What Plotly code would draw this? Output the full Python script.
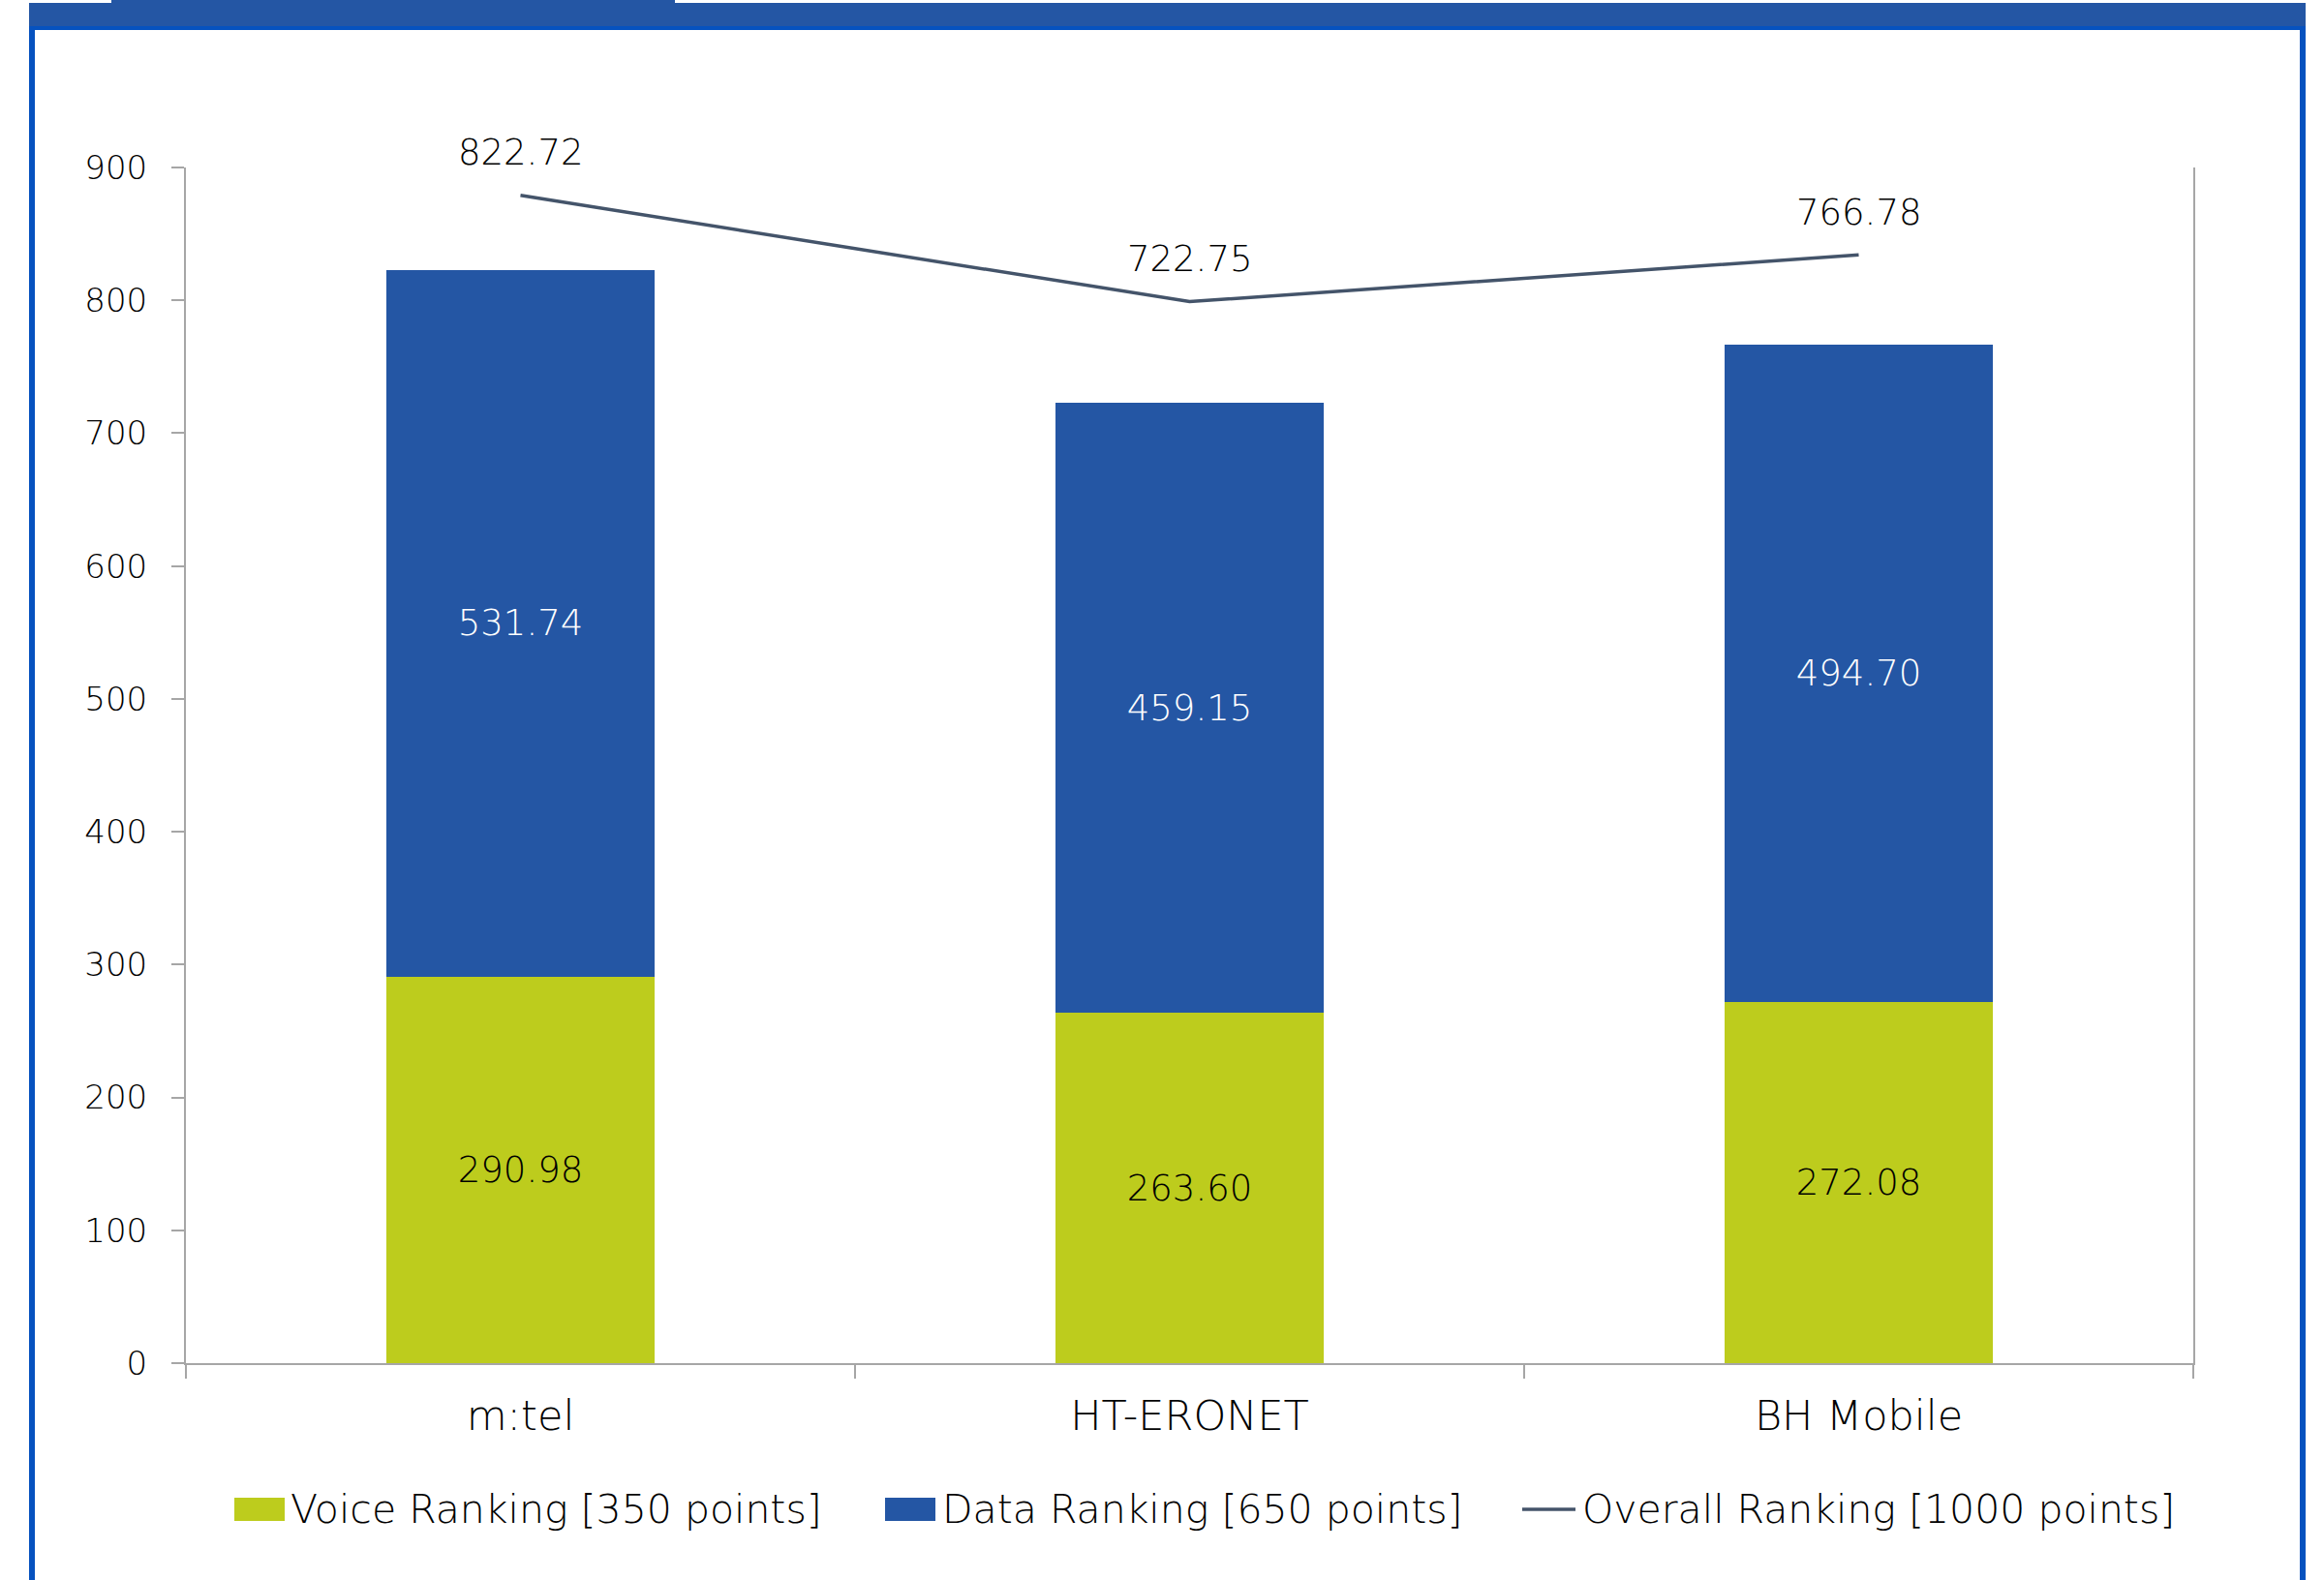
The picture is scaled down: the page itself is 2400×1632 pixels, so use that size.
import plotly.graph_objects as go

# ---------------- data ----------------
categories = ["m:tel", "HT-ERONET", "BH Mobile"]
voice_values = [290.98, 263.60, 272.08]
data_values = [531.74, 459.15, 494.70]
overall_values = [822.72, 722.75, 766.78]
series_names = ["Voice Ranking [350 points]", "Data Ranking [650 points]", "Overall Ranking [1000 points]"]
y_ticks = [0, 100, 200, 300, 400, 500, 600, 700, 800, 900]

# ---------------- style ----------------
W, H = 2400, 1632
PL, PR, PT, PB = 192, 2265, 173, 1408  # plot area in pixels
GREEN = "#BDCC1D"
BLUE = "#2456A4"
LINE = "#44546A"
FRAME = "#0652BF"
FONT = "DejaVu Sans"
WEIGHT = 200
AXIS_GRAY = "#A6A6A6"


def px(x):
    return (x - PL) / (PR - PL)


def py(y):
    return (PB - y) / (PB - PT)


fig = go.Figure()

fig.add_trace(go.Bar(
    x=categories, y=voice_values, name=series_names[0],
    marker=dict(color=GREEN, line=dict(width=0)),
    texttemplate="%{y:.2f}", textposition="inside", insidetextanchor="middle",
    textangle=0, textfont=dict(color="#000000", size=37, family=FONT, weight=WEIGHT),
    width=0.4, showlegend=False,
))
fig.add_trace(go.Bar(
    x=categories, y=data_values, name=series_names[1],
    marker=dict(color=BLUE, line=dict(width=0)),
    texttemplate="%{y:.2f}", textposition="inside", insidetextanchor="middle",
    textangle=0, textfont=dict(color="#FFFFFF", size=37, family=FONT, weight=WEIGHT),
    width=0.4, showlegend=False,
))
fig.add_trace(go.Scatter(
    x=categories, y=overall_values, name=series_names[2], mode="lines",
    line=dict(color=LINE, width=3.5), yaxis="y2", showlegend=False,
))

# labels above the overall line
for c, v in zip(categories, overall_values):
    fig.add_annotation(
        x=c, y=v, yref="y2", text=f"{v:.2f}", showarrow=False,
        yshift=44, font=dict(size=37, color="#000000", family=FONT, weight=WEIGHT),
    )

# ---------------- manual legend ----------------
leg_y = 1559
legend_items = [
    ("box", GREEN, 242, 294, 298, series_names[0]),
    ("box", BLUE, 914, 966, 971, series_names[1]),
    ("line", LINE, 1572, 1627, 1632, series_names[2]),
]
shapes = []
for kind, col, x0, x1, tx, name in legend_items:
    if kind == "box":
        shapes.append(dict(type="rect", xref="paper", yref="paper",
                           x0=px(x0), x1=px(x1), y0=py(leg_y - 12), y1=py(leg_y + 12),
                           fillcolor=col, line=dict(width=0)))
    else:
        shapes.append(dict(type="line", xref="paper", yref="paper",
                           x0=px(x0), x1=px(x1), y0=py(leg_y), y1=py(leg_y),
                           line=dict(color=col, width=3.5)))
    fig.add_annotation(xref="paper", yref="paper", x=px(tx), y=py(leg_y),
                       xanchor="left", yanchor="middle", text=name, showarrow=False,
                       font=dict(size=41, color="#000000", family=FONT, weight=WEIGHT))

# ---------------- frame ----------------
frame = [
    (30, 2381, 3, 27, BLUE),      # top bar
    (115, 697, 0, 3, BLUE),       # tab
    (30, 2381, 27, 31, FRAME),    # bright line
    (30, 36, 27, 1632, FRAME),    # left border
    (2375, 2381, 27, 1632, FRAME),  # right border
]
for x0, x1, y0, y1, col in frame:
    shapes.append(dict(type="rect", xref="paper", yref="paper",
                       x0=px(x0), x1=px(x1), y0=py(y0), y1=py(y1),
                       fillcolor=col, line=dict(width=0), layer="above"))

fig.update_layout(
    width=W, height=H,
    margin=dict(l=PL, r=W - PR, t=PT, b=H - PB, pad=0),
    barmode="stack", bargap=0.6,
    plot_bgcolor="#FFFFFF", paper_bgcolor="#FFFFFF",
    font=dict(family=FONT, color="#000000", weight=WEIGHT),
    shapes=shapes,
    xaxis=dict(
        type="category", showline=True, linecolor=AXIS_GRAY, linewidth=2,
        ticks="outside", tickson="boundaries", ticklen=14, tickcolor=AXIS_GRAY, tickwidth=2,
        tickfont=dict(size=43, family=FONT, color="#000000", weight=WEIGHT),
        showgrid=False, zeroline=False, ticklabelstandoff=15,
    ),
    yaxis=dict(
        range=[0, 900], tickvals=y_ticks, showline=True, linecolor=AXIS_GRAY, linewidth=2,
        ticks="outside", ticklen=13, tickcolor=AXIS_GRAY, tickwidth=2,
        tickfont=dict(size=34, family=FONT, color="#000000", weight=WEIGHT),
        showgrid=False, zeroline=False, ticklabelstandoff=18,
    ),
    yaxis2=dict(
        overlaying="y", side="right", range=[-276, 849], showticklabels=False,
        ticks="", showline=True, linecolor=AXIS_GRAY, linewidth=2,
        showgrid=False, zeroline=False,
    ),
)

fig.write_html("out.html", config={"displayModeBar": False},
               post_script="document.body.style.margin='0';")
